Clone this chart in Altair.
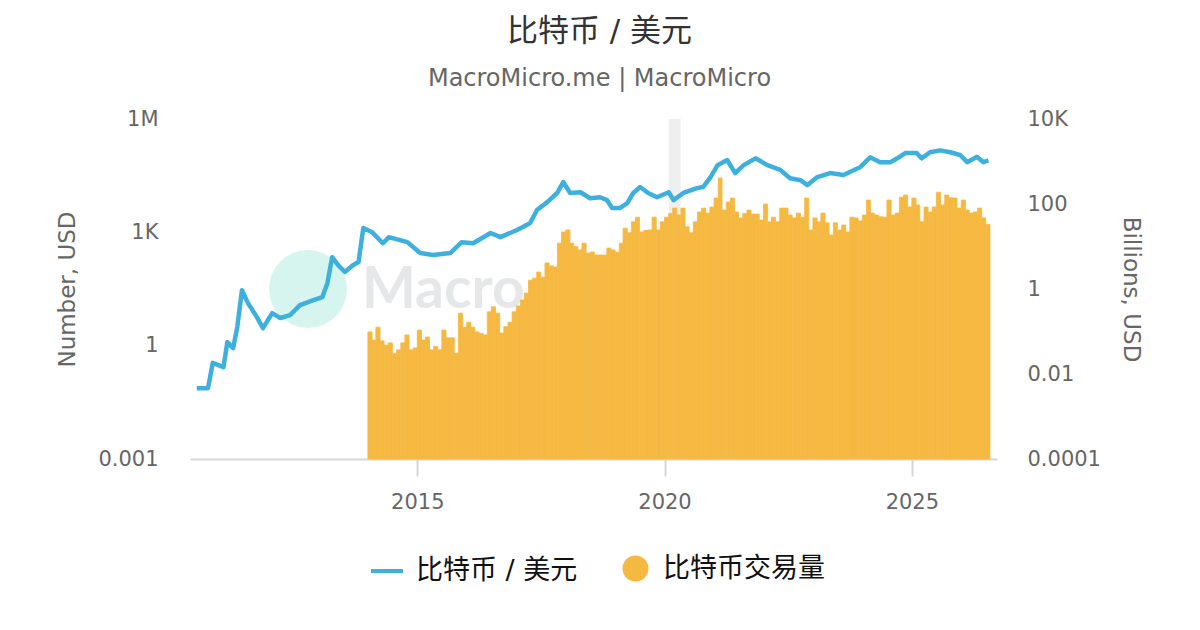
import altair as alt
import pandas as pd

# ---- data ----
price_dates = [
    "2010-07-17", "2010-10-08", "2010-11-12", "2011-01-30", "2011-02-28", "2011-04-12",
    "2011-05-12", "2011-06-16", "2011-07-30", "2011-10-04", "2011-11-18", "2012-01-25",
    "2012-03-25", "2012-06-05", "2012-08-18", "2012-11-24", "2013-01-30", "2013-03-08",
    "2013-04-12", "2013-05-26", "2013-07-15", "2013-09-12", "2013-10-24", "2013-11-28",
    "2014-02-02", "2014-04-22", "2014-06-05", "2014-10-20", "2015-01-22", "2015-04-27",
    "2015-09-01", "2015-11-25", "2016-02-18", "2016-06-25", "2016-09-06", "2017-01-07",
    "2017-04-12", "2017-06-03", "2017-08-18", "2017-10-30", "2017-12-14", "2018-02-03",
    "2018-04-20", "2018-07-01", "2018-09-12", "2018-11-03", "2018-12-10", "2019-02-05",
    "2019-04-01", "2019-05-15", "2019-07-05", "2019-09-02", "2019-11-06", "2020-02-01",
    "2020-03-08", "2020-05-19", "2020-08-29", "2020-10-12", "2020-12-06", "2021-01-27",
    "2021-04-08", "2021-06-06", "2021-08-08", "2021-11-03", "2022-01-30", "2022-05-05",
    "2022-07-16", "2022-10-01", "2022-11-22", "2023-02-03", "2023-05-08", "2023-08-15",
    "2023-10-05", "2023-12-16", "2024-02-28", "2024-05-11", "2024-07-26", "2024-09-16",
    "2024-11-13", "2025-02-06", "2025-03-14", "2025-05-15", "2025-07-30", "2025-10-12",
    "2025-12-25", "2026-02-14", "2026-04-27", "2026-06-14", "2026-07-20",
]
price_values = [
    0.075, 0.075, 0.35, 0.27, 1.24, 0.86,
    3.1, 29.5, 13.4, 5.7, 2.9, 7.3,
    5.4, 6.4, 11.8, 16, 19.4, 45,
    220, 135, 89, 135, 163, 1300,
    1000, 515, 745, 550, 283, 250,
    283, 550, 515, 960, 745, 1150,
    1740, 3900, 6300, 11000, 21400, 11000,
    11500, 8000, 8500, 7100, 4400, 4400,
    5900, 11000, 15800, 11000, 8500, 11500,
    7100, 11000, 14800, 15800, 29000, 60000,
    82000, 37000, 60000, 91000, 60000, 45000,
    27000, 24000, 17800, 29000, 37000, 33000,
    40000, 53000, 97000, 72000, 72000, 91000,
    125000, 125000, 91000, 132000, 148000, 132000,
    110000, 72000, 100000, 72000, 80000,
]

# monthly trading volume (billions USD), Jan 2014 .. Jul 2026
volume_first_month = "2014-01-01"
volume_values = [
    0.098, 0.063, 0.126, 0.06, 0.048, 0.054, 0.03, 0.037, 0.054, 0.083, 0.037, 0.041,
    0.108, 0.063, 0.074, 0.037, 0.045, 0.037, 0.108, 0.071, 0.071, 0.031, 0.27, 0.126,
    0.165, 0.126, 0.098, 0.09, 0.083, 0.29, 0.38, 0.27, 0.092, 0.13, 0.165, 0.29,
    0.4, 0.55, 0.8, 1.6, 1.8, 2.5, 1.9, 4.1, 3.5, 3.3, 12, 22,
    24.5, 12, 10, 8.3, 12, 7.0, 7.4, 6.3, 6.3, 6.3, 9.2, 8.3,
    7.4, 12, 27, 21, 38, 49, 22, 24, 24.5, 49, 24.5, 38,
    49, 60, 80, 55, 80, 29, 21, 38, 65, 80, 61, 85,
    138, 410, 72, 111, 138, 65, 47, 60, 72, 58, 58, 42,
    100, 38, 49, 38, 80, 80, 55, 47, 61, 49, 138, 24.5,
    47, 38, 61, 36, 18.6, 36, 24.5, 32, 22, 49, 47, 40,
    55, 124, 61, 55, 50, 49, 124, 55, 61, 145, 163, 85,
    138, 95, 38, 85, 65, 85, 190, 95, 163, 140, 138, 80,
    124, 72, 61, 65, 80, 47, 33,
]

band_start = ["2020-02-01"]
band_end = ["2020-04-30"]

price_name = "比特币 / 美元"
volume_name = "比特币交易量"
title_text = "比特币 / 美元"
subtitle_text = "MacroMicro.me | MacroMicro"
watermark_text = ["Macro"]

left_ticks = [0.001, 1, 1000, 1000000]
right_ticks = [0.0001, 0.01, 1, 100, 10000]

# ---- styling ----
FONT = "DejaVu Sans, Noto Sans CJK SC"
BLUE = "#3eb0dd"
ORANGE = "#f5b942"
AXIS_GRAY = "#d6d6d6"
TEXT_GRAY = "#666666"
W, H = 807, 340

price = pd.DataFrame({
    "date": pd.to_datetime(price_dates),
    "value": price_values,
    "series": price_name,
})
months = pd.date_range(volume_first_month, periods=len(volume_values), freq="MS")
volume = pd.DataFrame({
    "start": months,
    "end": months + pd.offsets.MonthBegin(1),
    "value": volume_values,
    "series": volume_name,
})
band = pd.DataFrame({"start": pd.to_datetime(band_start), "end": pd.to_datetime(band_end)})
wm = pd.DataFrame({"t": watermark_text})

x_scale = alt.Scale(domain=[alt.DateTime(year=2010, month=5, date=28),
                            alt.DateTime(year=2026, month=9, date=22)])

band_layer = alt.Chart(band).mark_rect(color="#efefef").encode(
    x=alt.X("start:T", scale=x_scale,
            axis=alt.Axis(values=[alt.DateTime(year=2015), alt.DateTime(year=2020),
                                  alt.DateTime(year=2025)],
                          format="%Y", title=None, grid=False,
                          domainColor=AXIS_GRAY, domainWidth=2,
                          tickColor=AXIS_GRAY, tickWidth=2, tickSize=17,
                          labelFontSize=21, labelColor=TEXT_GRAY, labelFont=FONT,
                          labelPadding=15, labelFlush=False)),
    x2="end:T",
)

wm_circle = alt.Chart(wm).mark_circle(color="#d7f5ef", opacity=1, size=6084).encode(
    x=alt.value(118), y=alt.value(170)
)
wm_text = alt.Chart(wm).mark_text(
    align="left", baseline="middle", fontSize=57, fontWeight="bold",
    font="Lato", color="#e6e7e9"
).encode(x=alt.value(172), y=alt.value(172), text="t:N")

left_label = "datum.value >= 1000000 ? '1M' : datum.value >= 1000 ? '1K' : format(datum.value, '~g')"
right_label = "datum.value >= 10000 ? '10K' : format(datum.value, '~g')"

bars = alt.Chart(volume).mark_rect(stroke=ORANGE, strokeWidth=0.8).encode(
    x="start:T",
    x2="end:T",
    y=alt.Y("value:Q",
            scale=alt.Scale(type="log", domain=[0.0001, 10000]),
            axis=alt.Axis(orient="right", values=right_ticks, labelExpr=right_label,
                          title="Billions, USD", titleFontSize=23, titleFontWeight="normal",
                          titleColor=TEXT_GRAY, titleFont=FONT,
                          labelFontSize=21, labelColor=TEXT_GRAY, labelFont=FONT,
                          domain=False, ticks=False, tickSize=0, grid=False,
                          labelPadding=30, titlePadding=18, labelFlush=False)),
    y2=alt.Y2(datum=0.0001),
    fill=alt.Fill("series:N",
                  scale=alt.Scale(domain=[volume_name], range=[ORANGE]),
                  legend=alt.Legend(orient="none", legendX=432, legendY=436, title=None,
                                    symbolType="circle", symbolSize=676,
                                    symbolStrokeWidth=0, symbolOpacity=1,
                                    labelFontSize=27, labelColor="#111111", labelFont=FONT,
                                    labelOffset=14, labelLimit=0)),
)

line = alt.Chart(price).mark_line(strokeWidth=4.5, strokeJoin="round").encode(
    x="date:T",
    y=alt.Y("value:Q",
            scale=alt.Scale(type="log", domain=[0.001, 1000000]),
            axis=alt.Axis(orient="left", values=left_ticks, labelExpr=left_label,
                          title="Number, USD", titleFontSize=23, titleFontWeight="normal",
                          titleColor=TEXT_GRAY, titleFont=FONT,
                          labelFontSize=21, labelColor=TEXT_GRAY, labelFont=FONT,
                          domain=False, ticks=False, tickSize=0, grid=False,
                          labelPadding=32, titlePadding=18, labelFlush=False)),
    stroke=alt.Stroke("series:N",
                      scale=alt.Scale(domain=[price_name], range=[BLUE]),
                      legend=alt.Legend(orient="none", legendX=179, legendY=434, title=None,
                                        symbolType="stroke", symbolSize=1024,
                                        symbolStrokeWidth=4,
                                        labelFontSize=27, labelColor="#111111",
                                        labelFont=FONT, labelOffset=11, labelLimit=0)),
)

chart = alt.layer(band_layer, wm_circle, wm_text, bars, line).resolve_scale(
    y="independent", fill="independent", stroke="independent"
).properties(
    width=W, height=H,
    autosize=alt.AutoSizeParams(type="none"),
    padding={"left": 182, "top": 111, "right": 195, "bottom": 163},
    title=alt.TitleParams(text=title_text, subtitle=subtitle_text,
                          fontSize=31, fontWeight="normal", color="#333333", font=FONT,
                          subtitleFontSize=24, subtitleColor=TEXT_GRAY, subtitleFont=FONT,
                          subtitlePadding=19, anchor="middle", offset=16, dx=6),
).configure(font=FONT, background="white").configure_view(stroke=None, strokeWidth=0)

chart.save("out.html", embed_options={"renderer": "svg", "actions": False})
